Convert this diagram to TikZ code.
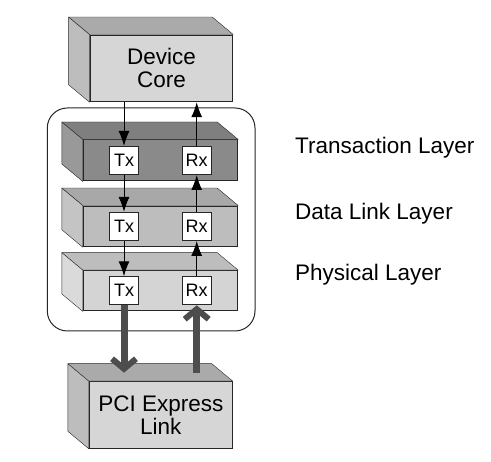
\documentclass[tikz,border=0pt]{standalone}
\usepackage{fontspec}
\setmainfont{Liberation Sans}
\usetikzlibrary{calc,arrows.meta}
\definecolor{edge}{HTML}{262626}
\definecolor{shaft}{HTML}{4D4D4D}
\newcommand{\boxsides}[3]{%
  \filldraw[edge, fill=#2, line join=round] (#1.north west) -- ++(-21,17.5) -- ($(#1.north east)+(-21,17.5)$) -- (#1.north east) -- cycle;
  \filldraw[edge, fill=#3, line join=round] (#1.north west) -- ++(-21,17.5) -- ($(#1.south west)+(-21,17.5)$) -- (#1.south west) -- cycle;}
\begin{document}
\begin{tikzpicture}[x=1pt, y=1pt,
    front/.style={draw=edge, line width=1pt, align=center, inner sep=0pt, font=\fontsize{22.5}{23}\selectfont},
    tag/.style={draw=edge, fill=white, line width=1pt, minimum width=29pt, minimum height=28pt, inner sep=0pt, font=\fontsize{18}{18}\selectfont},
    lbl/.style={anchor=base west, inner sep=0pt, font=\fontsize{22.5}{23}\selectfont},
    thin arrow/.style={black, line width=1pt, -{Latex[length=15pt, width=11pt]}},
    thick arrow/.style={shaft, line width=7pt, -{Straight Barb[length=10pt, width=24pt, line width=6pt]}}]
    \useasboundingbox (0,0) rectangle (491,462);

    \draw[edge, line width=1pt, rounded corners=20pt] (47.3,131) rectangle (255,354);

    \draw (161.4,393.6) node[front, fill={rgb,255:red,214;green,214;blue,214}, minimum width=142.7pt, minimum height=66.7pt] (core) {Device\\Core};
    \boxsides{core}{{rgb,255:red,170;green,170;blue,170}}{{rgb,255:red,189;green,189;blue,189}}

    \draw (160.5,301.5) node[front, fill={rgb,255:red,138;green,138;blue,138}, minimum width=154.4pt, minimum height=41pt] (tl) {};
    \boxsides{tl}{{rgb,255:red,127;green,127;blue,127}}{{rgb,255:red,153;green,153;blue,153}}
    \draw (160.5,235.6) node[front, fill={rgb,255:red,189;green,189;blue,189}, minimum width=154.4pt, minimum height=40.7pt] (dl) {};
    \boxsides{dl}{{rgb,255:red,168;green,168;blue,168}}{{rgb,255:red,196;green,196;blue,196}}
    \draw (160.5,171.2) node[front, fill={rgb,255:red,212;green,212;blue,212}, minimum width=154.4pt, minimum height=40.3pt] (pl) {};
    \boxsides{pl}{{rgb,255:red,189;green,189;blue,189}}{{rgb,255:red,218;green,218;blue,218}}

    \draw (160.8,47) node[front, fill={rgb,255:red,214;green,214;blue,214}, minimum width=143pt, minimum height=66.6pt] (lk) {PCI Express\\Link};
    \boxsides{lk}{{rgb,255:red,170;green,170;blue,170}}{{rgb,255:red,189;green,189;blue,189}}

    \draw (124,301.5) node[tag] (txT) {Tx};
    \draw (196.7,301.5) node[tag] (rxT) {Rx};
    \draw (124,235.6) node[tag] (txD) {Tx};
    \draw (196.7,235.6) node[tag] (rxD) {Rx};
    \draw (124,171.2) node[tag] (txP) {Tx};
    \draw (196.7,171.2) node[tag] (rxP) {Rx};

    \draw (295,308) node[lbl] (tlName) {Transaction Layer};
    \draw (295,242) node[lbl] (dlName) {Data Link Layer};
    \draw (295,181) node[lbl] (plName) {Physical Layer};

    \coordinate (lkTop) at (160.8,89.3);

    \draw[thin arrow] (core.south -| txT) -- (txT);
    \draw[thin arrow] (txT) -- (txD);
    \draw[thin arrow] (txD) -- (txP);
    \draw[thin arrow] (rxP) -- (rxD);
    \draw[thin arrow] (rxD) -- (rxT);
    \draw[thin arrow] (rxT) -- (rxT |- core.south);
    \draw[thick arrow] (txP) -- (txP |- lkTop);
    \draw[thick arrow] (rxP |- lkTop) -- (rxP);
\end{tikzpicture}
\end{document}
